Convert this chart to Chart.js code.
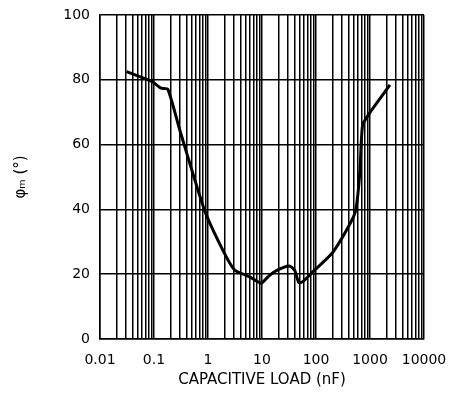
<!DOCTYPE html>
<html>
<head>
<meta charset="utf-8">
<script src="https://cdn.jsdelivr.net/npm/chart.js@4"></script>
<style>
  html, body { margin: 0; padding: 0; background: #fff; }
  #wrap { width: 451px; height: 419px; }
</style>
</head>
<body>
<div id="wrap"><canvas id="chart"></canvas></div>
<script>
// capacitive load (nF) vs phase margin (deg)
const capLoad = [0.031, 0.08, 0.095, 0.135, 0.18, 0.3, 0.86, 1.87, 3.1, 5.9, 9.7, 12.9, 18.5, 32, 40, 48, 57, 88, 208, 525, 646, 725, 923, 2340];
const phaseMargin = [82.5, 79.9, 79.3, 77.4, 77.1, 64.5, 39.8, 27.5, 21.3, 19.2, 17.2, 19.2, 21.1, 22.5, 21.3, 17.4, 17.7, 20.8, 26.9, 38.8, 51.1, 65.7, 69.1, 78.4];
const xTickLabels = ["0.01", "0.1", "1", "10", "100", "1000", "10000"];
const yTicks = [0, 20, 40, 60, 80, 100];

const points = capLoad.map((c, i) => ({ x: c, y: phaseMargin[i] }));

// log grid: 1..9 per decade
const logTicks = [];
for (let e = -2; e < 4; e++) {
  for (let m = 1; m < 10; m++) logTicks.push(+(m * Math.pow(10, e)).toPrecision(3));
}
logTicks.push(10000);

const font = { family: "DejaVu Sans", size: 14 };

new Chart(document.getElementById("chart"), {
  type: "line",
  data: {
    datasets: [{
      data: points,
      borderColor: "#000",
      borderWidth: 3,
      pointRadius: 0,
      tension: 0.2,
      fill: false,
    }],
  },
  options: {
    responsive: true,
    maintainAspectRatio: false,
    animation: false,
    layout: { padding: { top: 15, right: 27, left: 0, bottom: 26 } },
    plugins: { legend: { display: false }, tooltip: { enabled: false } },
    scales: {
      x: {
        type: "logarithmic",
        min: 0.01,
        max: 10000,
        afterBuildTicks: (s) => { s.ticks = logTicks.map((v) => ({ value: v })); },
        afterFit: (s) => { s.height = 54; s.paddingLeft = 0; s.paddingRight = 0; },
        grid: { color: "#000", lineWidth: 1.5, drawTicks: false },
        border: { color: "#000", width: 1.5 },
        ticks: {
          color: "#000",
          font: font,
          padding: 13,
          autoSkip: false,
          maxRotation: 0,
          callback: (v) => {
            const lbl = xTickLabels.find((t) => Math.abs(parseFloat(t) - v) < 1e-9);
            return lbl || "";
          },
        },
        title: {
          display: true,
          text: "CAPACITIVE LOAD (nF)",
          color: "#000",
          font: { family: "DejaVu Sans", size: 15 },
          padding: { top: 10, bottom: 4 },
        },
      },
      y: {
        min: 0,
        max: 100,
        afterBuildTicks: (s) => { s.ticks = yTicks.map((v) => ({ value: v })); },
        afterFit: (s) => { s.width = 100; s.paddingTop = 0; s.paddingBottom = 0; },
        grid: { color: "#000", lineWidth: 1.5, drawTicks: false },
        border: { color: "#000", width: 1.5 },
        ticks: { color: "#000", font: font, padding: 10 },
        title: {
          display: true,
          text: "φₘ (°)",
          color: "#000",
          font: { family: "DejaVu Sans", size: 15 },
          padding: { top: 12, bottom: 0 },
        },
      },
    },
  },
});
</script>
</body>
</html>
